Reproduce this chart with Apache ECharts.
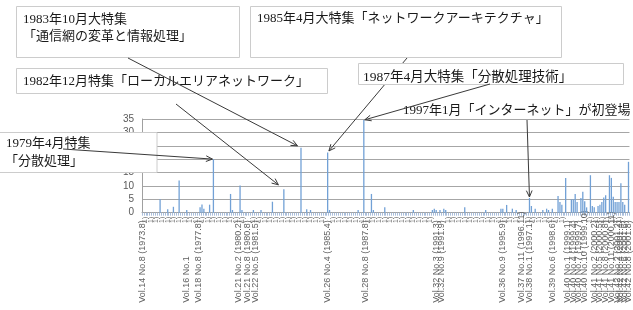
<!DOCTYPE html>
<html><head><meta charset="utf-8">
<script src="https://cdn.jsdelivr.net/npm/echarts@6/dist/echarts.min.js"></script>
<style>html,body{margin:0;padding:0;background:#fff}#c{width:633px;height:310px}</style>
</head><body><div id="c"></div>
<script>
// ---- data ----
const issueCount = 256; // number of issue records on the category axis
const tickLabels = [
  [0, 'Vol.14 No.8 (1973.8)'],
  [23, 'Vol.16 No.1'],
  [29, 'Vol.18 No.8 (1977.8)'],
  [50, 'Vol.21 No.2 (1980.2)'],
  [55, 'Vol.21 No.8 (1980.8)'],
  [59, 'Vol.22 No.5 (1981.5)'],
  [97, 'Vol.26 No.4 (1985.4)'],
  [117, 'Vol.28 No.8 (1987.8)'],
  [154, 'Vol.32 No.3 (1991.3)'],
  [157, 'Vol.32 No.9 (1991.9)'],
  [189, 'Vol.36 No.9 (1995.9)'],
  [199, 'Vol.37 No.11 (1996.11)'],
  [203, 'Vol.38 No.1 (1997.1)'],
  [215, 'Vol.39 No.6 (1998.6)'],
  [223, 'Vol.40 No.1 (1999.1)'],
  [226, 'Vol.40 No.4 (1999.4)'],
  [229, 'Vol.40 No.7 (1999.7)'],
  [232, 'Vol.40 No.10 (1999.10)'],
  [237, 'Vol.41 No.2 (2000.2)'],
  [240, 'Vol.41 No.5 (2000.5)'],
  [243, 'Vol.41 No.8 (2000.8)'],
  [246, 'Vol.41 No.11 (2000.11)'],
  [249, 'Vol.42 No.2 (2001.2)'],
  [251, 'Vol.42 No.4 (2001.4)'],
  [253, 'Vol.42 No.6 (2001.6)'],
  [255, 'Vol.42 No.8 (2001.8)']
];
// clipped label tails that crowd the row just under the axis
const tailLabel = '1)';
// [record index, article count]
const articleCounts = [
  [9,5],[13,1.3],[16,2.2],[19,12],[23,1],[30,2],[31,3.1],[32,1.5],[35,3],[37,20],
  [46,7],[47,1],[51,10.2],[52,1],[58,1],[62,1],[68,4.1],[74,8.8],[83,24.3],[86,1.3],
  [88,1],[97,22.5],[98,1],[113,1],[116,34.6],[120,7],[121,1],[127,2],[142,1],
  [152,1],[153,1.5],[154,1],[156,1],[158,1.5],[159,1],[169,2],[180,1],
  [188,1.5],[189,1.5],[191,2.9],[194,1.5],[196,1],[203,5.5],[204,2.5],[206,1.5],
  [210,1],[212,1.5],[213,1],[215,1.5],[218,6.2],[219,4],[220,3],[222,13],
  [225,5],[226,5],[227,7],[228,4],[230,5.5],[231,7.8],[232,4.3],[233,2],
  [235,14],[236,2.5],[237,2],[239,2.5],[240,3],[241,4],[242,5.7],[243,6.5],
  [245,14],[246,13],[247,6],[248,4],[249,4],[250,4],[251,11],[252,4],[253,3],[255,19]
];
const notes = {
  a: ['1983年10月大特集', '「通信網の変革と情報処理」'],
  b: ['1985年4月大特集「ネットワークアーキテクチャ」'],
  c: ['1982年12月特集「ローカルエリアネットワーク」'],
  d: ['1987年4月大特集「分散処理技術」'],
  e: ['1997年1月「インターネット」が初登場'],
  f: ['1979年4月特集', '「分散処理」']
};

// ---- build ----
const categories = [];
const labelMap = {};
tickLabels.forEach(t => { labelMap[t[0]] = t[1]; });
for (let i = 0; i < issueCount; i++) categories.push(labelMap[i] || ('#' + (i + 1)));
const values = new Array(issueCount).fill(0);
articleCounts.forEach(d => { values[d[0]] = d[1]; });

const chart = echarts.init(document.getElementById('c'), null, {renderer: 'canvas'});
const FONT = "'Liberation Serif','Noto Sans CJK JP',serif";
const SANS = "'Liberation Sans',Arial,sans-serif";
chart.setOption({
  animation: false,
  backgroundColor: '#fff',
  grid: {left: 142, right: 3, top: 119, bottom: 97.3},
  xAxis: [{
    type: 'category', data: categories, boundaryGap: true,
    axisLine: {lineStyle: {color: '#a0a0a0', width: 1}},
    axisTick: {show: true, interval: 0, length: 3, lineStyle: {color: '#a9bedb'}},
    axisLabel: {
      interval: 0, rotate: 90, align: 'left', margin: 90,
      fontSize: 9, color: '#606060', fontFamily: SANS,
      formatter: (v, i) => labelMap[i] || ''
    },
    splitLine: {show: false}
  }, {
    type: 'category', data: categories, boundaryGap: true, position: 'bottom',
    axisLine: {show: false}, axisTick: {show: false},
    axisLabel: {
      interval: 0, rotate: 90, align: 'right', margin: 4,
      fontSize: 7, color: '#707070', fontFamily: SANS,
      formatter: (v, i) => (!labelMap[i] && i % 3 === 1) ? tailLabel : ''
    }
  }],
  yAxis: {
    type: 'value', min: 0, max: 35, interval: 5,
    axisLine: {show: true, lineStyle: {color: '#a0a0a0'}},
    axisTick: {show: false},
    axisLabel: {margin: 8, fontSize: 10, color: '#595959', fontFamily: SANS},
    splitLine: {lineStyle: {color: '#a6a6a6', width: 1}}
  },
  series: [{
    type: 'bar', data: values, barWidth: 1.3,
    itemStyle: {color: '#72a1d6'}
  }]
});

function arrowEls(sx, sy, idx, val, back, z) {
  const p = chart.convertToPixel({seriesIndex: 0}, [idx, val]);
  const dx = p[0] - sx, dy = p[1] - sy, L = Math.hypot(dx, dy);
  const ux = dx / L, uy = dy / L;
  const tx = p[0] - ux * back, ty = p[1] - uy * back;
  const ah = 7, ang = 0.42;
  const c = Math.cos(ang), s = Math.sin(ang);
  const b1 = [tx - ah * (ux * c - uy * s), ty - ah * (uy * c + ux * s)];
  const b2 = [tx - ah * (ux * c + uy * s), ty - ah * (uy * c - ux * s)];
  const st = {stroke: '#3a3a3a', lineWidth: 1, fill: null};
  return [
    {type: 'line', z: z, shape: {x1: sx, y1: sy, x2: tx, y2: ty}, style: st},
    {type: 'polyline', z: z, shape: {points: [b1, [tx, ty], b2]}, style: st}
  ];
}
function box(x, y, w, h, z) {
  return {type: 'rect', z: z, shape: {x: x, y: y, width: w, height: h},
    style: {fill: '#fff', stroke: '#cccccc', lineWidth: 1}};
}
function txt(x, y, t, size, z) {
  return {type: 'text', z: z, x: x, y: y,
    style: {text: t, fill: '#1a1a1a', font: size + 'px ' + FONT, textVerticalAlign: 'middle', textAlign: 'left'}};
}

const els = [];
els.push(...arrowEls(407, 58, 97, 22.5, 2, 10)); // hidden behind box D where they cross
els.push(box(16.5, 6.5, 223, 51, 20));
els.push(box(250.5, 6.5, 311, 51, 20));
els.push(box(16.5, 68.5, 311, 25, 20));
els.push(box(358.5, 63.5, 265, 21, 20));
els.push(box(-1, 132.5, 158, 40, 20));
els.push(txt(23, 20, notes.a[0], 13, 25));
els.push(txt(23, 37, notes.a[1], 13, 25));
els.push(txt(257, 19, notes.b[0], 13, 25));
els.push(txt(23, 82, notes.c[0], 13, 25));
els.push(txt(363, 77, notes.d[0], 13.5, 25));
els.push(txt(403, 111, notes.e[0], 13, 25));
els.push(txt(6, 144, notes.f[0], 13, 25));
els.push(txt(5, 161.5, notes.f[1], 13, 25));
els.push(...arrowEls(128, 58, 83, 24.3, 4, 30));
els.push(...arrowEls(176, 104, 74, 8.8, 7, 30));
els.push(...arrowEls(490, 84, 116, 34.6, 1, 30));
els.push(...arrowEls(527, 120, 203, 5.5, 1, 30));
els.push(...arrowEls(63, 149, 37, 20, 1, 30));
chart.setOption({graphic: {elements: els}});
</script></body></html>
